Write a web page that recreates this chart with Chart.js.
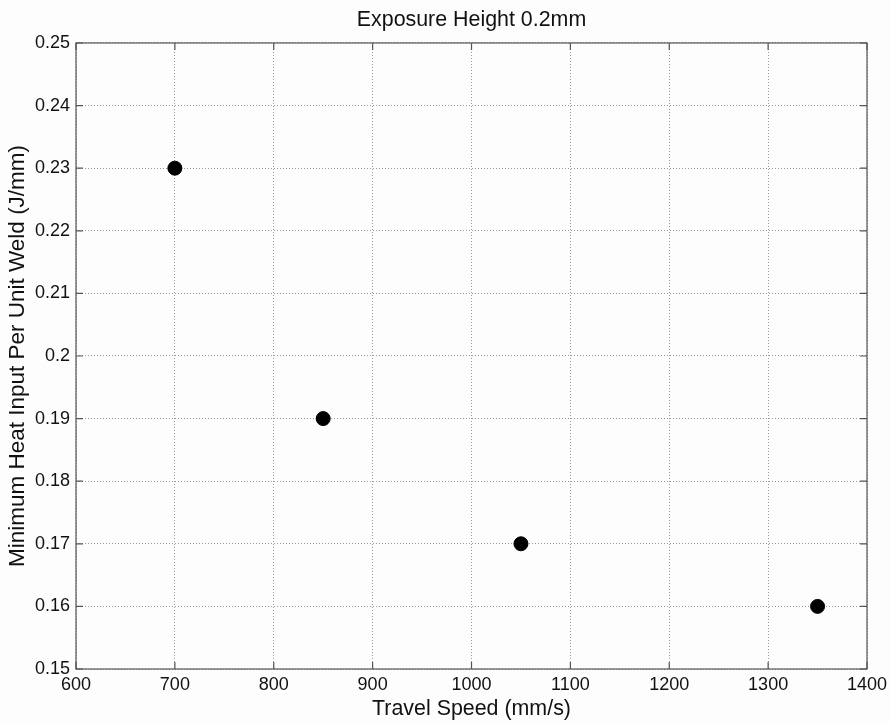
<!DOCTYPE html>
<html>
<head>
<meta charset="utf-8">
<script src="https://cdn.jsdelivr.net/npm/chart.js@4.4.0/dist/chart.umd.min.js"></script>
<style>
  body { margin: 0; background: #fdfdfd; }
  #wrap { width: 890px; height: 722px; }
</style>
</head>
<body>
<div id="wrap"><canvas id="scatterChart"></canvas></div>
<script>
// data
var travelSpeed = [700, 850, 1050, 1350];
var minHeatInput = [0.23, 0.19, 0.17, 0.16];
var xTicks = [600, 700, 800, 900, 1000, 1100, 1200, 1300, 1400];
var yTicks = [0.15, 0.16, 0.17, 0.18, 0.19, 0.2, 0.21, 0.22, 0.23, 0.24, 0.25];

var FONT = "'Liberation Sans', Arial, Helvetica, sans-serif";

// box round the plot area plus short inward tick marks (matlab style)
var boxPlugin = {
    id: 'box',
    afterDraw: function (chart) {
        var a = chart.chartArea;
        var ctx = chart.ctx;
        var xs = chart.scales.x, ys = chart.scales.y;
        ctx.save();
        ctx.strokeStyle = '#555';
        ctx.lineWidth = 1.2;
        ctx.setLineDash([]);
        ctx.strokeRect(a.left, a.top, a.right - a.left, a.bottom - a.top);
        ctx.beginPath();
        xTicks.forEach(function (v) {
            var px = xs.getPixelForValue(v);
            ctx.moveTo(px, a.bottom); ctx.lineTo(px, a.bottom - 7);
            ctx.moveTo(px, a.top); ctx.lineTo(px, a.top + 7);
        });
        yTicks.forEach(function (v) {
            var py = ys.getPixelForValue(v);
            ctx.moveTo(a.left, py); ctx.lineTo(a.left + 7, py);
            ctx.moveTo(a.right, py); ctx.lineTo(a.right - 7, py);
        });
        ctx.stroke();
        ctx.restore();
    }
};

var ctx = document.getElementById('scatterChart');
new Chart(ctx, {
    type: 'scatter',
    data: {
        datasets: [{
            data: travelSpeed.map(function (x, i) { return { x: x, y: minHeatInput[i] }; }),
            backgroundColor: '#000',
            borderColor: '#000',
            pointRadius: 7,
            pointHoverRadius: 7
        }]
    },
    options: {
        responsive: true,
        maintainAspectRatio: false,
        animation: false,
        layout: { padding: { left: 0, right: 23, top: 0, bottom: 0 } },
        plugins: {
            legend: { display: false },
            tooltip: { enabled: false },
            title: {
                display: true,
                fullSize: false,
                text: 'Exposure Height 0.2mm',
                color: '#111',
                font: { family: FONT, size: 21.4, weight: 'normal', lineHeight: 1.2 },
                padding: { top: 7, bottom: 10.3 }
            }
        },
        scales: {
            x: {
                type: 'linear',
                min: 600,
                max: 1400,
                afterBuildTicks: function (scale) {
                    scale.ticks = xTicks.map(function (v) { return { value: v }; });
                },
                afterFit: function (scale) {
                    scale.height = 53;
                    scale.paddingLeft = 0;
                    scale.paddingRight = 0;
                },
                ticks: {
                    color: '#111',
                    font: { family: FONT, size: 18 },
                    padding: 5,
                    maxRotation: 0,
                    callback: function (v) { return String(v); }
                },
                grid: {
                    color: '#999',
                    drawTicks: false
                },
                border: { display: false, dash: [1, 2] },
                title: {
                    display: true,
                    text: 'Travel Speed (mm/s)',
                    color: '#111',
                    font: { family: FONT, size: 21.4, lineHeight: 1.2 },
                    padding: { top: 0, bottom: 0 }
                }
            },
            y: {
                type: 'linear',
                min: 0.15,
                max: 0.25,
                afterBuildTicks: function (scale) {
                    scale.ticks = yTicks.map(function (v) { return { value: v }; });
                },
                afterFit: function (scale) {
                    scale.width = 76;
                    scale.paddingTop = 0;
                    scale.paddingBottom = 0;
                },
                ticks: {
                    color: '#111',
                    font: { family: FONT, size: 18 },
                    padding: 6,
                    callback: function (v) { return String(parseFloat(v.toFixed(2))); }
                },
                grid: {
                    color: '#999',
                    drawTicks: false
                },
                border: { display: false, dash: [1, 2] },
                title: {
                    display: true,
                    text: 'Minimum Heat Input Per Unit Weld (J/mm)',
                    color: '#111',
                    font: { family: FONT, size: 22.5, lineHeight: 1.2 },
                    padding: { top: 4, bottom: 0 }
                }
            }
        }
    },
    plugins: [boxPlugin]
});
</script>
</body>
</html>
